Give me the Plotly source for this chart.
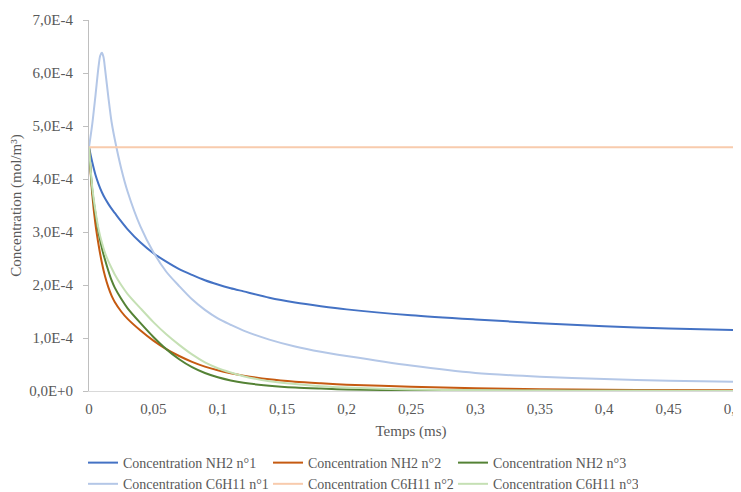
import plotly.graph_objects as go

# time (ms)
t = [0, 0.0025, 0.005, 0.0075, 0.01, 0.0125, 0.015, 0.0175, 0.02, 0.025, 0.03, 0.04, 0.05,
     0.06, 0.07, 0.08, 0.09, 0.1, 0.11, 0.12, 0.14, 0.16, 0.18, 0.2, 0.25, 0.3, 0.35, 0.4,
     0.45, 0.5]
# finer time sampling for the C6H11 n°1 peak
t_peak = [0, 0.0025, 0.005, 0.0075, 0.00875, 0.01, 0.01125, 0.0125, 0.015, 0.0175, 0.02, 0.025,
          0.03, 0.04, 0.05, 0.06, 0.07, 0.08, 0.09, 0.1, 0.11, 0.12, 0.14, 0.16, 0.18, 0.2, 0.25,
          0.3, 0.35, 0.4, 0.45, 0.5]

# concentrations in units of 1E-4 mol/m3
nh2_1 = [4.6, 4.32, 4.08, 3.9, 3.75, 3.63, 3.53, 3.44, 3.36, 3.2, 3.05, 2.8, 2.6,
         2.44, 2.3, 2.19, 2.09, 2.01, 1.94, 1.88, 1.76, 1.67, 1.6, 1.54, 1.43, 1.35, 1.28, 1.22,
         1.18, 1.15]
nh2_2 = [4.6, 3.72, 3.15, 2.75, 2.42, 2.16, 1.96, 1.8, 1.68, 1.5, 1.36, 1.14, 0.95,
         0.79, 0.66, 0.55, 0.46, 0.39, 0.335, 0.29, 0.22, 0.175, 0.145, 0.12, 0.08, 0.05, 0.035, 0.025,
         0.018, 0.012]
nh2_3 = [4.6, 3.8, 3.35, 2.98, 2.7, 2.47, 2.27, 2.09, 1.95, 1.74, 1.56, 1.28, 1.02,
         0.79, 0.6, 0.45, 0.34, 0.26, 0.2, 0.155, 0.1, 0.065, 0.045, 0.03, 0.015, 0.008, 0.005, 0.003,
         0.002, 0.001]
c6h11_1 = [4.6, 5.03, 5.57, 6.14, 6.33, 6.38, 6.3, 6.07, 5.55, 5.08, 4.75, 4.2,
           3.76, 3.1, 2.62, 2.25, 1.98, 1.73, 1.53, 1.37, 1.25, 1.14, 0.97, 0.84, 0.74, 0.66, 0.48,
           0.34, 0.27, 0.225, 0.195, 0.175]
c6h11_2 = [4.6] * len(t)
c6h11_3 = [4.6, 3.85, 3.4, 3.05, 2.8, 2.6, 2.45, 2.32, 2.2, 2.0, 1.83, 1.56, 1.3,
           1.07, 0.87, 0.69, 0.54, 0.43, 0.35, 0.28, 0.185, 0.13, 0.09, 0.065, 0.03, 0.015, 0.008, 0.005,
           0.003, 0.002]

series_names = ["Concentration NH2 n°1", "Concentration NH2 n°2", "Concentration NH2 n°3",
                "Concentration C6H11 n°1", "Concentration C6H11 n°2", "Concentration C6H11 n°3"]
series_times = [t, t, t, t_peak, t, t]
series_values = [nh2_1, nh2_2, nh2_3, c6h11_1, c6h11_2, c6h11_3]
colors = ["#4472C4", "#C55A11", "#548235", "#B4C7E7", "#F8CBAD", "#C5E0B4"]

x_tickvals = [0, 0.05, 0.1, 0.15, 0.2, 0.25, 0.3, 0.35, 0.4, 0.45, 0.5]
x_ticktext = ["0", "0,05", "0,1", "0,15", "0,2", "0,25", "0,3", "0,35", "0,4", "0,45", "0,5"]
y_tickvals = [0, 1, 2, 3, 4, 5, 6, 7]
y_ticktext = ["0,0E+0", "1,0E-4", "2,0E-4", "3,0E-4", "4,0E-4", "5,0E-4", "6,0E-4", "7,0E-4"]

FONT = "Liberation Serif"
GRAY = "#595959"

# the page body adds an 8px margin around the figure, so the figure is 8px smaller
BODY = 8
W, H = 741 - BODY, 492 - BODY

fig = go.Figure()
for name, xs, vals, col in zip(series_names, series_times, series_values, colors):
    fig.add_trace(go.Scatter(x=xs, y=vals, mode="lines", name=name,
                             line=dict(color=col, width=2, shape="spline", smoothing=0.8)))

fig.update_layout(
    width=W, height=H,
    margin=dict(l=89 - BODY, r=8, t=20 - BODY, b=101, autoexpand=False),
    paper_bgcolor="white", plot_bgcolor="white",
    font=dict(family=FONT, size=15, color=GRAY),
    showlegend=True,
    legend=dict(orientation="h", x=-0.0093, xanchor="left", y=-0.151, yanchor="top",
                font=dict(family=FONT, size=14, color=GRAY),
                entrywidth=140, itemwidth=30, tracegroupgap=0, bgcolor="rgba(0,0,0,0)"),
    xaxis=dict(range=[0, 0.5], tickvals=x_tickvals, ticktext=x_ticktext, automargin=False,
               showgrid=False, zeroline=False, showline=True, linecolor="#D9D9D9", linewidth=1,
               ticks="", ticklabeloverflow="allow", ticklabelstandoff=4,
               tickfont=dict(family=FONT, size=15, color=GRAY),
               title=dict(text="Temps (ms)", font=dict(family=FONT, size=15, color=GRAY), standoff=9)),
    yaxis=dict(range=[0, 7], tickvals=y_tickvals, ticktext=y_ticktext, automargin=False,
               showgrid=False, zeroline=False, showline=True, linecolor="#BFBFBF", linewidth=1,
               ticks="outside", ticklen=5, tickcolor="#BFBFBF", ticklabelstandoff=7,
               tickfont=dict(family=FONT, size=15, color=GRAY),
               title=dict(text="Concentration (mol/m³)", font=dict(family=FONT, size=15, color=GRAY), standoff=7)),
)

fig.write_html("out.html")
